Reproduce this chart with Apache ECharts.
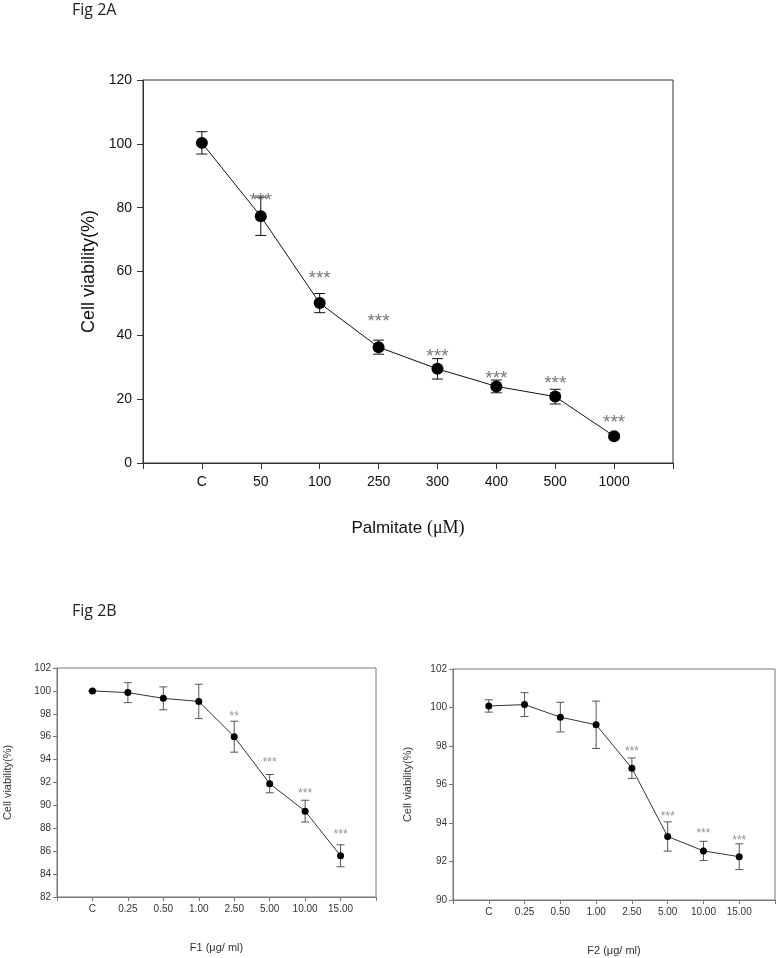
<!DOCTYPE html>
<html>
<head>
<meta charset="utf-8">
<title>Fig 2</title>
<script src="https://cdn.jsdelivr.net/npm/echarts@6/dist/echarts.min.js"></script>
<style>
  html, body { margin: 0; padding: 0; background: #fff; }
  #main { width: 778px; height: 958px; }
</style>
</head>
<body>
<div id="main"></div>
<script>
// Fig 2A - palmitate
const doseA = ['C', '50', '100', '250', '300', '400', '500', '1000'];
const viabilityA = [100.3, 77.3, 50.1, 36.3, 29.5, 24.0, 20.8, 8.4];
const errorA = [3.5, 6.0, 3.0, 2.2, 3.2, 2.0, 2.3, 0.7];
const sigA = ['', '***', '***', '***', '***', '***', '***', '***'];
const sigLevelA = [null, 83.3, 59.1, 45.4, 34.6, 27.7, 26.1, 13.9];

// Fig 2B - F1 / F2
const doseB = ['C', '0.25', '0.50', '1.00', '2.50', '5.00', '10.00', '15.00'];
const viabilityF1 = [100.0, 99.85, 99.35, 99.08, 96.0, 91.9, 89.5, 85.6];
const errorF1 = [0.05, 0.87, 1.0, 1.5, 1.35, 0.8, 0.95, 0.96];
const sigF1 = ['', '', '', '', '**', '***', '***', '***'];
const sigLevelF1 = [null, null, null, null, 98.0, 94.0, 91.26, 87.68];

const viabilityF2 = [100.08, 100.15, 99.5, 99.1, 96.85, 93.3, 92.55, 92.25];
const errorF2 = [0.32, 0.62, 0.77, 1.23, 0.53, 0.76, 0.5, 0.67];
const sigF2 = ['', '', '', '', '***', '***', '***', '***'];
const sigLevelF2 = [null, null, null, null, 97.88, 94.5, 93.6, 93.26];

const chart = echarts.init(document.getElementById('main'));

function points (values) {
  return values.map((v, i) => [i + 1, v]);
}
function bars (values, errs) {
  return values.map((v, i) => [i + 1, v - errs[i], v + errs[i]]);
}
function sigPoints (levels, marks) {
  const out = [];
  levels.forEach((lv, i) => {
    if (lv != null) out.push({ value: [i + 1, lv], mark: marks[i] });
  });
  return out;
}

function errorRenderer (capHalf, color) {
  return function (params, api) {
    const lo = api.coord([api.value(0), api.value(1)]);
    const hi = api.coord([api.value(0), api.value(2)]);
    const style = { stroke: color, lineWidth: 1 };
    return {
      type: 'group',
      children: [
        { type: 'line', shape: { x1: hi[0], y1: hi[1], x2: lo[0], y2: lo[1] }, style },
        { type: 'line', shape: { x1: hi[0] - capHalf, y1: hi[1], x2: hi[0] + capHalf, y2: hi[1] }, style },
        { type: 'line', shape: { x1: lo[0] - capHalf, y1: lo[1], x2: lo[0] + capHalf, y2: lo[1] }, style }
      ]
    };
  };
}

function xAxisFor (gridIndex, cats, opts) {
  return {
    gridIndex,
    type: 'value',
    min: 0,
    max: 9,
    interval: 1,
    name: opts.name,
    nameLocation: 'middle',
    nameGap: opts.nameGap,
    nameTextStyle: opts.nameStyle,
    axisLine: { lineStyle: { color: opts.lineColor, width: 1 } },
    axisTick: { inside: false, length: opts.tick, lineStyle: { color: opts.lineColor } },
    splitLine: { show: false },
    axisLabel: {
      margin: opts.margin,
      fontFamily: 'Liberation Sans, Arial',
      fontSize: opts.fontSize,
      color: opts.labelColor,
      showMinLabel: true,
      showMaxLabel: true,
      formatter: v => cats[v - 1] || ''
    }
  };
}

function yAxisFor (gridIndex, min, max, interval, opts) {
  return {
    gridIndex,
    type: 'value',
    min,
    max,
    interval,
    name: opts.name,
    nameLocation: 'middle',
    nameGap: opts.nameGap,
    nameTextStyle: { fontFamily: 'Liberation Sans, Arial', fontSize: opts.nameSize, color: opts.labelColor },
    axisLine: { show: true, lineStyle: { color: opts.lineColor, width: 1 } },
    axisTick: { show: true, inside: false, length: opts.tick, lineStyle: { color: opts.lineColor } },
    splitLine: { show: false },
    axisLabel: {
      margin: opts.margin,
      fontFamily: 'Liberation Sans, Arial',
      fontSize: opts.fontSize,
      color: opts.labelColor
    }
  };
}

function panelSeries (idx, values, errs, levels, marks, st) {
  return [
    {
      type: 'custom',
      xAxisIndex: idx,
      yAxisIndex: idx,
      renderItem: errorRenderer(st.cap, st.barColor),
      data: bars(values, errs),
      z: 2,
      silent: true
    },
    {
      type: 'line',
      xAxisIndex: idx,
      yAxisIndex: idx,
      data: points(values),
      symbol: 'circle',
      symbolSize: st.symbolSize,
      itemStyle: { color: '#000' },
      lineStyle: { color: st.lineColor, width: 1 },
      z: 3,
      silent: true
    },
    {
      type: 'scatter',
      xAxisIndex: idx,
      yAxisIndex: idx,
      symbolSize: 0,
      data: sigPoints(levels, marks),
      label: {
        show: true,
        position: 'inside',
        offset: [0, st.starShift],
        formatter: p => p.data.mark,
        fontFamily: 'Liberation Sans, Arial',
        fontSize: st.starSize,
        color: st.starColor
      },
      z: 4,
      silent: true
    }
  ];
}

const bigStyle = { cap: 5.5, barColor: '#111', symbolSize: 12, lineColor: '#111', starSize: 19, starColor: '#555', starShift: 4 };
const smallStyle = { cap: 4, barColor: '#555', symbolSize: 7, lineColor: '#333', starSize: 12, starColor: '#777', starShift: 3 };

const smallX = { lineColor: '#777', tick: 4, margin: 7, fontSize: 10, labelColor: '#333' };
const smallY = { lineColor: '#777', tick: 4, margin: 6, fontSize: 10, labelColor: '#333', nameSize: 11 };

const option = {
  backgroundColor: '#fff',
  animation: false,
  graphic: [
    { type: 'text', left: 72, top: 2, style: { text: 'Fig 2A', font: '16px "Open Sans", sans-serif', fill: '#222' } },
    { type: 'text', left: 72, top: 603, style: { text: 'Fig 2B', font: '16px "Open Sans", sans-serif', fill: '#222' } }
  ],
  grid: [
    { left: 143, top: 80, width: 530, height: 383, show: true, borderColor: '#333', borderWidth: 1, outerBoundsMode: 'none' },
    { left: 57, top: 668, width: 319, height: 229, show: true, borderColor: '#777', borderWidth: 1, outerBoundsMode: 'none' },
    { left: 453, top: 669, width: 322, height: 231, show: true, borderColor: '#777', borderWidth: 1, outerBoundsMode: 'none' }
  ],
  xAxis: [
    xAxisFor(0, doseA, {
      name: '{a|Palmitate }{b|(μM)}',
      nameGap: 56,
      nameStyle: {
        rich: {
          a: { fontFamily: 'Liberation Sans, Arial', fontSize: 17, color: '#111' },
          b: { fontFamily: 'Liberation Serif, Times New Roman', fontSize: 18, color: '#111' }
        }
      },
      lineColor: '#333', tick: 6, margin: 12, fontSize: 14, labelColor: '#111'
    }),
    xAxisFor(1, doseB, Object.assign({
      name: 'F1 (μg/ ml)',
      nameGap: 45,
      nameStyle: { fontFamily: 'Liberation Sans, Arial', fontSize: 11, color: '#333' }
    }, smallX)),
    xAxisFor(2, doseB, Object.assign({
      name: 'F2 (μg/ ml)',
      nameGap: 45,
      nameStyle: { fontFamily: 'Liberation Sans, Arial', fontSize: 11, color: '#333' }
    }, smallX))
  ],
  yAxis: [
    yAxisFor(0, 0, 120, 20, {
      name: 'Cell viability(%)', nameGap: 38, nameSize: 18,
      lineColor: '#333', tick: 6, margin: 11, fontSize: 14, labelColor: '#111'
    }),
    yAxisFor(1, 82, 102, 2, Object.assign({ name: 'Cell viability(%)', nameGap: 44 }, smallY)),
    yAxisFor(2, 90, 102, 2, Object.assign({ name: 'Cell viability(%)', nameGap: 40 }, smallY))
  ],
  series: [].concat(
    panelSeries(0, viabilityA, errorA, sigLevelA, sigA, bigStyle),
    panelSeries(1, viabilityF1, errorF1, sigLevelF1, sigF1, smallStyle),
    panelSeries(2, viabilityF2, errorF2, sigLevelF2, sigF2, smallStyle)
  )
};

chart.setOption(option);
</script>
</body>
</html>
